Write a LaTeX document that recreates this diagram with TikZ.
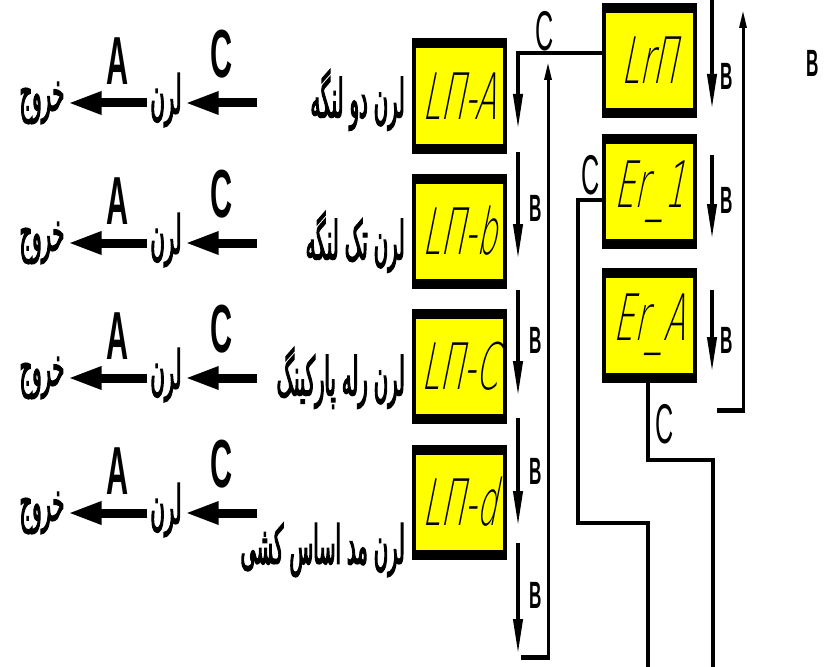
\documentclass[tikz,border=0pt]{standalone}
\usepackage{fontspec}
\usetikzlibrary{arrows.meta}
\TeXXeTstate=1
\newfontfamily\farsi[Script=Arabic,FakeStretch=0.36,FakeBold=2]{DejaVu Sans}
\newfontfamily\latn[FakeStretch=0.45]{Liberation Sans}
\newfontfamily\seg[FakeSlant=0.2,FakeStretch=0.5]{DejaVu Sans ExtraLight}
\definecolor{lcdyellow}{RGB}{255,255,0}
\tikzset{
 lcd/.style={fill=lcdyellow, draw=black, line width=4pt, minimum width=91pt, minimum height=111pt, inner sep=0pt, font=\seg\fontsize{64}{64}\selectfont},
 wire/.style={line width=4pt},
 barrow/.style={line width=4pt, -{Triangle[length=36pt,width=9pt]}},
 uparrow/.style={line width=3pt, -{Triangle[length=18pt,width=7pt]}},
 rowarrow/.style={line width=9pt, -{Triangle[length=34pt,width=21pt]}},
 fa/.style={font=\farsi\fontsize{54}{54}\selectfont, inner sep=3pt},
 big/.style={font=\latn\bfseries\fontsize{68}{68}\selectfont, inner sep=0pt},
 lbl/.style={font=\latn\bfseries\fontsize{38}{38}\selectfont, inner sep=0pt},
 clbl/.style={font=\latn\fontsize{56}{56}\selectfont, inner sep=0pt}
}
\begin{document}
\begin{tikzpicture}[x=1pt,y=-1pt]
\useasboundingbox (0,0) rectangle (829,666);
\node[lcd] (lna) at (459.5,96) {LП-A};
\node[lcd] (lnb) at (459.5,231) {LП-b};
\node[lcd] (lnc) at (459.5,366) {LП-C};
\node[lcd] (lnd) at (459.5,502) {LП-d};
\node[lcd] (lrn) at (649.5,60.5) {LrП};
\node[lcd] (er1) at (649.5,191.5) {Er\_1};
\node[lcd] (era) at (649.5,325) {Er\_A};
\foreach \n in {lna,lnb,lnc,lnd,lrn,er1,era} {
 \fill (\n.north west) rectangle ([yshift=-10pt]\n.north east);
 \fill (\n.south west) rectangle ([yshift=10pt]\n.south east);
}
\node[fa, anchor=east] (rl1) at (408,100) {\beginR لرن دو لنگه\endR};
\node[fa, anchor=east] (rl2) at (408,242) {\beginR لرن تک لنگه\endR};
\node[fa, anchor=east] (rl3) at (408,378) {\beginR لرن رله پارکینگ\endR};
\node[fa, anchor=east] (rl4) at (408,550) {\beginR لرن مد اساس کشی\endR};
\foreach \y [count=\i] in {103,243,378,513} {
 \node[fa] (exit\i) at (42,\y) {\beginR خروج\endR};
 \node[fa] (learn\i) at (166,\y-3) {\beginR لرن\endR};
 \coordinate (cin\i) at (257,\y);
 \draw[rowarrow] (cin\i) -- (learn\i.east |- cin\i);
 \draw[rowarrow] (learn\i.west |- cin\i) -- (exit\i.east |- cin\i);
 \node[big] (a\i) at (118,\y-42) {A};
 \node[big] (c\i) at (222,\y-49) {C};
}
\coordinate (bt) at (518,130);
\draw[barrow] ([yshift=7.5pt]lrn.west) -| (bt);
\foreach \a/\b/\l in {152/260/208, 290/397/340, 418/527/471, 543/655/595} {
 \draw[barrow] (518,\a) -- (518,\b);
 \node[lbl] (bl\l) at (536,\l) {B};
}
\coordinate (bb) at (521,657);
\coordinate (bu) at (548,62);
\draw[line width=5pt] (bb) -- (550,657);
\draw[uparrow] (548,659) -- (bu);
\foreach \a/\b/\l in {-2/110/76, 155/240/200, 290/373/340} {
 \draw[barrow] (712,\a) -- (712,\b);
 \node[lbl] (br\l) at (727,\l) {B};
}
\node[lbl] (bfar) at (813,63) {B};
\coordinate (rb) at (717,410);
\coordinate (ru) at (743,10);
\draw[line width=5pt] (rb) -- (745,410);
\draw[uparrow] (743,412) -- (ru);
\draw[wire] ([yshift=-8.5pt]er1.west) -| (578,523) -| (648,668);
\draw[wire] ([xshift=-1.5pt]era.south) |- (713,460) -- (713,668);
\node[clbl] (c0) at (545,31) {C};
\node[clbl] (ce1) at (591,175) {C};
\node[clbl] (cea) at (665,424) {C};
\end{tikzpicture}
\end{document}
